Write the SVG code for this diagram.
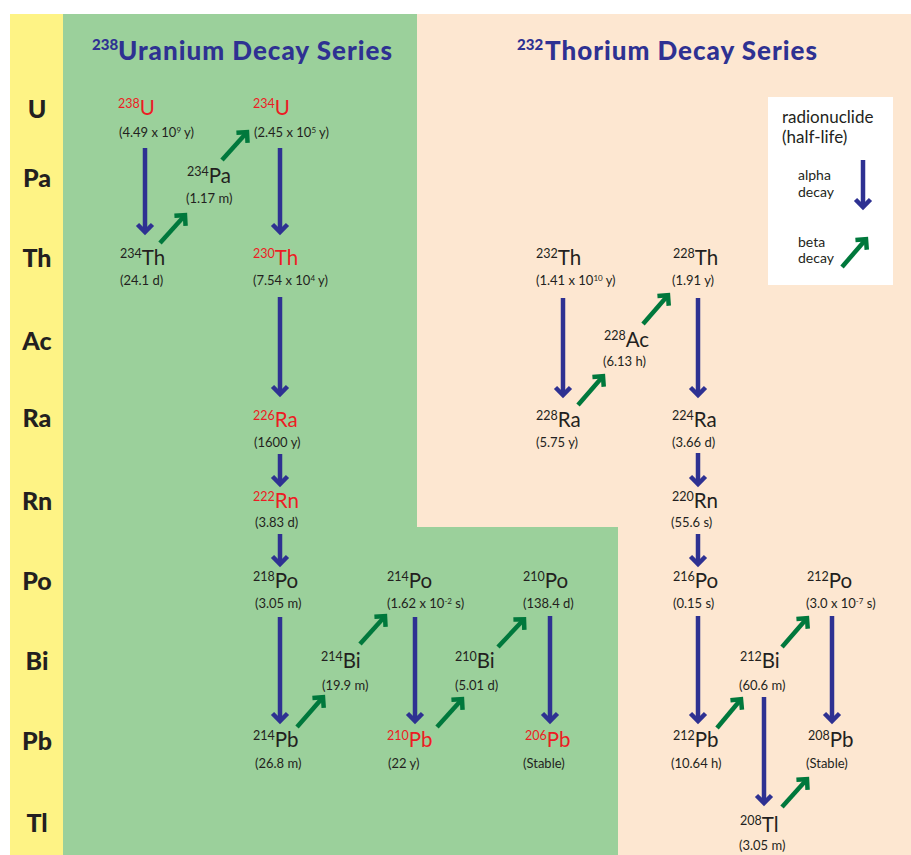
<svg xmlns="http://www.w3.org/2000/svg" width="911" height="855" viewBox="0 0 911 855">
<style>
text{font-family:Lato,"Open Sans","Liberation Sans",sans-serif;fill:#231f20}
.row{font-size:25px;font-weight:900;text-anchor:middle}
.title{font-size:26px;font-weight:900;fill:#2e3192}
.tsup{font-size:15px}
.el{font-size:20.5px}
.sup{font-size:12.5px}
.hl{font-size:13px}
.hsup{font-size:8px}
.red{fill:#ec1c24}
.leg1{font-size:17px}
.leg2{font-size:14px}
.a{stroke:#2e3192;stroke-width:4.5;fill:none;marker-end:url(#ah)}
.b{stroke:#00783c;stroke-width:4.5;fill:none;marker-end:url(#bh)}
</style>
<defs>
<marker id="ah" markerUnits="userSpaceOnUse" orient="auto" overflow="visible" refX="0" refY="0" markerWidth="20" markerHeight="20">
<path d="M-7.5,-7.5 L0,0 L-7.5,7.5" fill="none" stroke="#2e3192" stroke-width="4.5" stroke-linejoin="miter" stroke-miterlimit="10"/>
</marker>
<marker id="bh" markerUnits="userSpaceOnUse" orient="auto" overflow="visible" refX="0" refY="0" markerWidth="20" markerHeight="20">
<path d="M-7.5,-7.5 L0,0 L-7.5,7.5" fill="none" stroke="#00783c" stroke-width="4.5" stroke-linejoin="miter" stroke-miterlimit="10"/>
</marker>
</defs>
<rect width="911" height="855" fill="#ffffff"/>
<g id="backgrounds">
<rect x="10" y="14" width="53" height="841" fill="#fef385"/>
<rect x="63" y="14" width="354" height="841" fill="#9bd09b"/>
<rect x="417" y="527" width="201" height="328" fill="#9bd09b"/>
<path d="M417,14 H911 V855 H618 V527 H417 Z" fill="#fde7d1"/>
</g>
<g id="rowlabels">
<text class="row" x="37" y="118">U</text>
<text class="row" x="37" y="187">Pa</text>
<text class="row" x="37" y="267">Th</text>
<text class="row" x="37" y="350">Ac</text>
<text class="row" x="37" y="427">Ra</text>
<text class="row" x="37" y="510">Rn</text>
<text class="row" x="37" y="590">Po</text>
<text class="row" x="37" y="670">Bi</text>
<text class="row" x="37" y="750">Pb</text>
<text class="row" x="37" y="832">Tl</text>
</g>
<g id="titles">
<text class="title" x="92" y="60"><tspan class="tsup" dy="-10">238</tspan><tspan x="118" dy="10" textLength="274">Uranium Decay Series</tspan></text>
<text class="title" x="517" y="60"><tspan class="tsup" dy="-10">232</tspan><tspan x="545" dy="10" textLength="272">Thorium Decay Series</tspan></text>
</g>
<g id="legend">
<rect x="768" y="97" width="125" height="188" fill="#ffffff"/>
<text class="leg1" x="782" y="123">radionuclide</text>
<text class="leg1" x="782" y="143">(half-life)</text>
<text class="leg2" x="798" y="180">alpha</text>
<text class="leg2" x="798" y="197">decay</text>
<text class="leg2" x="798" y="247">beta</text>
<text class="leg2" x="798" y="263">decay</text>
<line class="a" x1="863" y1="160" x2="863" y2="207"/>
<line class="b" x1="842" y1="267" x2="866" y2="239.2"/>
</g>
<g id="n-U238"><text class="el red" x="118" y="115"><tspan class="sup" dy="-7">238</tspan><tspan dy="7">U</tspan></text><text class="hl" x="119" y="137">(4.49 x 10<tspan class="hsup" dy="-4">9</tspan><tspan dy="4"> y)</tspan></text></g>
<g id="n-U234"><text class="el red" x="253" y="115"><tspan class="sup" dy="-7">234</tspan><tspan dy="7">U</tspan></text><text class="hl" x="254" y="137">(2.45 x 10<tspan class="hsup" dy="-4">5</tspan><tspan dy="4"> y)</tspan></text></g>
<g id="n-Pa234"><text class="el" x="187" y="183"><tspan class="sup" dy="-7">234</tspan><tspan dy="7">Pa</tspan></text><text class="hl" x="186" y="203">(1.17 m)</text></g>
<g id="n-Th234"><text class="el" x="120" y="265"><tspan class="sup" dy="-7">234</tspan><tspan dy="7">Th</tspan></text><text class="hl" x="120" y="285">(24.1 d)</text></g>
<g id="n-Th230"><text class="el red" x="253" y="265"><tspan class="sup" dy="-7">230</tspan><tspan dy="7">Th</tspan></text><text class="hl" x="253" y="285">(7.54 x 10<tspan class="hsup" dy="-4">4</tspan><tspan dy="4"> y)</tspan></text></g>
<g id="n-Ra226"><text class="el red" x="253" y="427"><tspan class="sup" dy="-7">226</tspan><tspan dy="7">Ra</tspan></text><text class="hl" x="254" y="447">(1600 y)</text></g>
<g id="n-Rn222"><text class="el red" x="253" y="508"><tspan class="sup" dy="-7">222</tspan><tspan dy="7">Rn</tspan></text><text class="hl" x="255" y="527">(3.83 d)</text></g>
<g id="n-Po218"><text class="el" x="253" y="588"><tspan class="sup" dy="-7">218</tspan><tspan dy="7">Po</tspan></text><text class="hl" x="255" y="608">(3.05 m)</text></g>
<g id="n-Pb214"><text class="el" x="253" y="747"><tspan class="sup" dy="-7">214</tspan><tspan dy="7">Pb</tspan></text><text class="hl" x="255" y="768">(26.8 m)</text></g>
<g id="n-Bi214"><text class="el" x="321" y="668"><tspan class="sup" dy="-7">214</tspan><tspan dy="7">Bi</tspan></text><text class="hl" x="322" y="690">(19.9 m)</text></g>
<g id="n-Po214"><text class="el" x="387" y="588"><tspan class="sup" dy="-7">214</tspan><tspan dy="7">Po</tspan></text><text class="hl" x="387" y="608">(1.62 x 10<tspan class="hsup" dy="-4">-2</tspan><tspan dy="4"> s)</tspan></text></g>
<g id="n-Pb210"><text class="el red" x="387" y="747"><tspan class="sup" dy="-7">210</tspan><tspan dy="7">Pb</tspan></text><text class="hl" x="388" y="768">(22 y)</text></g>
<g id="n-Bi210"><text class="el" x="455" y="668"><tspan class="sup" dy="-7">210</tspan><tspan dy="7">Bi</tspan></text><text class="hl" x="455" y="690">(5.01 d)</text></g>
<g id="n-Po210"><text class="el" x="523" y="588"><tspan class="sup" dy="-7">210</tspan><tspan dy="7">Po</tspan></text><text class="hl" x="523" y="608">(138.4 d)</text></g>
<g id="n-Pb206"><text class="el red" x="525" y="747"><tspan class="sup" dy="-7">206</tspan><tspan dy="7">Pb</tspan></text><text class="hl" x="523" y="768">(Stable)</text></g>
<g id="n-Th232"><text class="el" x="536" y="265"><tspan class="sup" dy="-7">232</tspan><tspan dy="7">Th</tspan></text><text class="hl" x="536" y="285">(1.41 x 10<tspan class="hsup" dy="-4">10</tspan><tspan dy="4"> y)</tspan></text></g>
<g id="n-Th228"><text class="el" x="673" y="265"><tspan class="sup" dy="-7">228</tspan><tspan dy="7">Th</tspan></text><text class="hl" x="672" y="285">(1.91 y)</text></g>
<g id="n-Ac228"><text class="el" x="604" y="347"><tspan class="sup" dy="-7">228</tspan><tspan dy="7">Ac</tspan></text><text class="hl" x="603" y="366">(6.13 h)</text></g>
<g id="n-Ra228"><text class="el" x="536" y="427"><tspan class="sup" dy="-7">228</tspan><tspan dy="7">Ra</tspan></text><text class="hl" x="536" y="447">(5.75 y)</text></g>
<g id="n-Ra224"><text class="el" x="672" y="427"><tspan class="sup" dy="-7">224</tspan><tspan dy="7">Ra</tspan></text><text class="hl" x="672" y="447">(3.66 d)</text></g>
<g id="n-Rn220"><text class="el" x="672" y="508"><tspan class="sup" dy="-7">220</tspan><tspan dy="7">Rn</tspan></text><text class="hl" x="671" y="527">(55.6 s)</text></g>
<g id="n-Po216"><text class="el" x="673" y="588"><tspan class="sup" dy="-7">216</tspan><tspan dy="7">Po</tspan></text><text class="hl" x="673" y="608">(0.15 s)</text></g>
<g id="n-Pb212"><text class="el" x="673" y="747"><tspan class="sup" dy="-7">212</tspan><tspan dy="7">Pb</tspan></text><text class="hl" x="671" y="768">(10.64 h)</text></g>
<g id="n-Bi212"><text class="el" x="740" y="668"><tspan class="sup" dy="-7">212</tspan><tspan dy="7">Bi</tspan></text><text class="hl" x="739" y="690">(60.6 m)</text></g>
<g id="n-Po212"><text class="el" x="807" y="588"><tspan class="sup" dy="-7">212</tspan><tspan dy="7">Po</tspan></text><text class="hl" x="806" y="608">(3.0 x 10<tspan class="hsup" dy="-4">-7</tspan><tspan dy="4"> s)</tspan></text></g>
<g id="n-Pb208"><text class="el" x="808" y="747"><tspan class="sup" dy="-7">208</tspan><tspan dy="7">Pb</tspan></text><text class="hl" x="806" y="768">(Stable)</text></g>
<g id="n-Tl208"><text class="el" x="740" y="832"><tspan class="sup" dy="-7">208</tspan><tspan dy="7">Tl</tspan></text><text class="hl" x="739" y="850">(3.05 m)</text></g>
<g id="connectors">
<line class="a" x1="145" y1="148" x2="145" y2="232"/>
<line class="a" x1="280" y1="148" x2="280" y2="232"/>
<line class="a" x1="280" y1="297" x2="280" y2="394"/>
<line class="a" x1="280" y1="454" x2="280" y2="484"/>
<line class="a" x1="280" y1="534" x2="280" y2="564"/>
<line class="a" x1="280" y1="617" x2="280" y2="721"/>
<line class="a" x1="415" y1="617" x2="415" y2="721"/>
<line class="a" x1="550" y1="616" x2="550" y2="721"/>
<line class="a" x1="563" y1="298" x2="563" y2="395"/>
<line class="a" x1="698" y1="298" x2="698" y2="395"/>
<line class="a" x1="698" y1="453" x2="698" y2="484"/>
<line class="a" x1="698" y1="534" x2="698" y2="564"/>
<line class="a" x1="698" y1="616" x2="698" y2="721"/>
<line class="a" x1="832" y1="616" x2="832" y2="721"/>
<line class="a" x1="764" y1="697" x2="764" y2="803"/>
<line class="b" x1="160" y1="243" x2="185" y2="215.2"/>
<line class="b" x1="222" y1="160" x2="247" y2="132.2"/>
<line class="b" x1="297" y1="727" x2="323" y2="697.2"/>
<line class="b" x1="360" y1="644" x2="385" y2="616.2"/>
<line class="b" x1="437" y1="727" x2="462" y2="699.2"/>
<line class="b" x1="498" y1="647" x2="524" y2="619.2"/>
<line class="b" x1="578" y1="405" x2="603" y2="376.2"/>
<line class="b" x1="643" y1="324" x2="668" y2="295.2"/>
<line class="b" x1="717" y1="728" x2="741" y2="699.2"/>
<line class="b" x1="782" y1="647" x2="807" y2="618.2"/>
<line class="b" x1="782" y1="807" x2="807" y2="779.2"/>
</g>
</svg>
